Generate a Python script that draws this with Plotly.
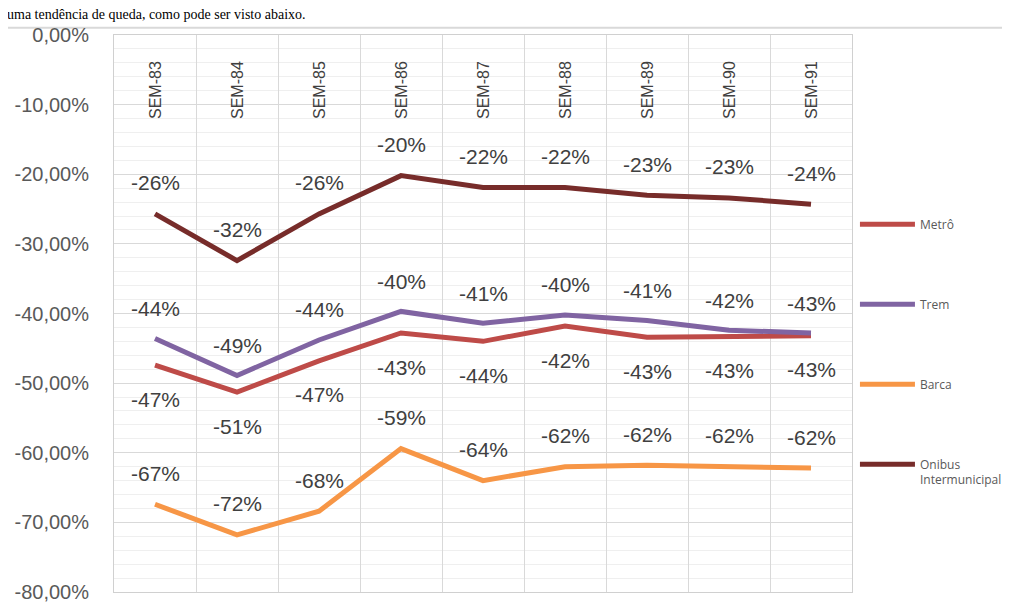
import plotly.graph_objects as go

categories = ["SEM-83", "SEM-84", "SEM-85", "SEM-86", "SEM-87", "SEM-88", "SEM-89", "SEM-90", "SEM-91"]
metro = [-47.4, -51.3, -46.8, -42.8, -44.0, -41.8, -43.4, -43.3, -43.2]
trem = [-43.6, -48.9, -43.8, -39.7, -41.4, -40.2, -41.0, -42.4, -42.8]
barca = [-67.4, -71.8, -68.4, -59.4, -64.0, -62.0, -61.8, -62.0, -62.2]
onibus = [-25.7, -32.4, -25.7, -20.2, -21.9, -21.9, -23.0, -23.4, -24.3]
y_ticks = [0, -10, -20, -30, -40, -50, -60, -70, -80]
y_ticktext = [f"{v:.2f}%".replace(".", ",") for v in y_ticks]

series = [
    ("Metrô", metro, "#be4b48", -34),
    ("Trem", trem, "#8064a2", 30),
    ("Barca", barca, "#f79646", 31),
    ("Onibus<br>Intermunicipal", onibus, "#772c2a", 31),
]

fig = go.Figure()
for i, (name, vals, color, _) in enumerate(series):
    fig.add_trace(go.Scatter(
        x=categories, y=vals, mode="lines", name=name,
        line=dict(color=color, width=5),
        legendgroup=str(i),
    ))

annotations = []
for name, vals, color, shift in series:
    for c, v in zip(categories, vals):
        annotations.append(dict(
            x=c, y=v, xref="x", yref="y", text=f"{round(v):.0f}%",
            showarrow=False, yshift=shift, xanchor="center", yanchor="middle",
            font=dict(family="Liberation Sans, Arial, sans-serif", size=21, color="#404040"),
        ))

for c in categories:
    annotations.append(dict(
        x=c, y=-7.9, xref="x", yref="y", text=c, textangle=-90,
        showarrow=False, xanchor="center", yanchor="middle",
        font=dict(family="Liberation Sans, Arial, sans-serif", size=16, color="#404040"),
    ))

annotations.append(dict(
    x=-0.148, y=1.0, xref="paper", yref="paper", xanchor="left", yanchor="bottom",
    yshift=11, text="uma tendência de queda, como pode ser visto abaixo.", showarrow=False,
    font=dict(family="Liberation Serif, Times New Roman, serif", size=14, color="#000000"),
))

fig.update_layout(
    width=1010, height=614,
    margin=dict(l=106, r=166, t=27, b=30, autoexpand=False),
    paper_bgcolor="white", plot_bgcolor="white",
    showlegend=True,
    legend=dict(
        x=1.004, y=0.686, xanchor="left", yanchor="top",
        font=dict(family="Open Sans, sans-serif", size=12, color="#595959"),
        tracegroupgap=61, valign="top", bgcolor="rgba(0,0,0,0)",
        itemwidth=55,
    ),
    annotations=annotations,
    shapes=[dict(type="rect", xref="paper", yref="paper",
                 x0=-0.148, x1=1.23, y0=-0.2, y1=1.013,
                 line=dict(color="#d9d9d9", width=2), layer="below")],
)

fig.update_xaxes(
    type="category", range=[-0.5, 8.5], tickson="boundaries",
    showgrid=True, gridcolor="#d9d9d9", gridwidth=1,
    showticklabels=False, ticks="", automargin=False,
    showline=True, linecolor="#d0d0d0", linewidth=1, mirror=True,
    zeroline=False,
)
fig.update_yaxes(
    range=[-80, 0], tickmode="array", tickvals=y_ticks, ticktext=y_ticktext,
    showgrid=True, gridcolor="#d9d9d9", gridwidth=1, automargin=False,
    minor=dict(dtick=2, showgrid=True, gridcolor="#efefef", gridwidth=1),
    showline=True, linecolor="#d0d0d0", linewidth=1, mirror=True,
    zeroline=False, ticks="", ticklabelstandoff=20,
    tickfont=dict(family="Liberation Sans, Arial, sans-serif", size=20, color="#595959"),
)

fig.write_html("out.html")
